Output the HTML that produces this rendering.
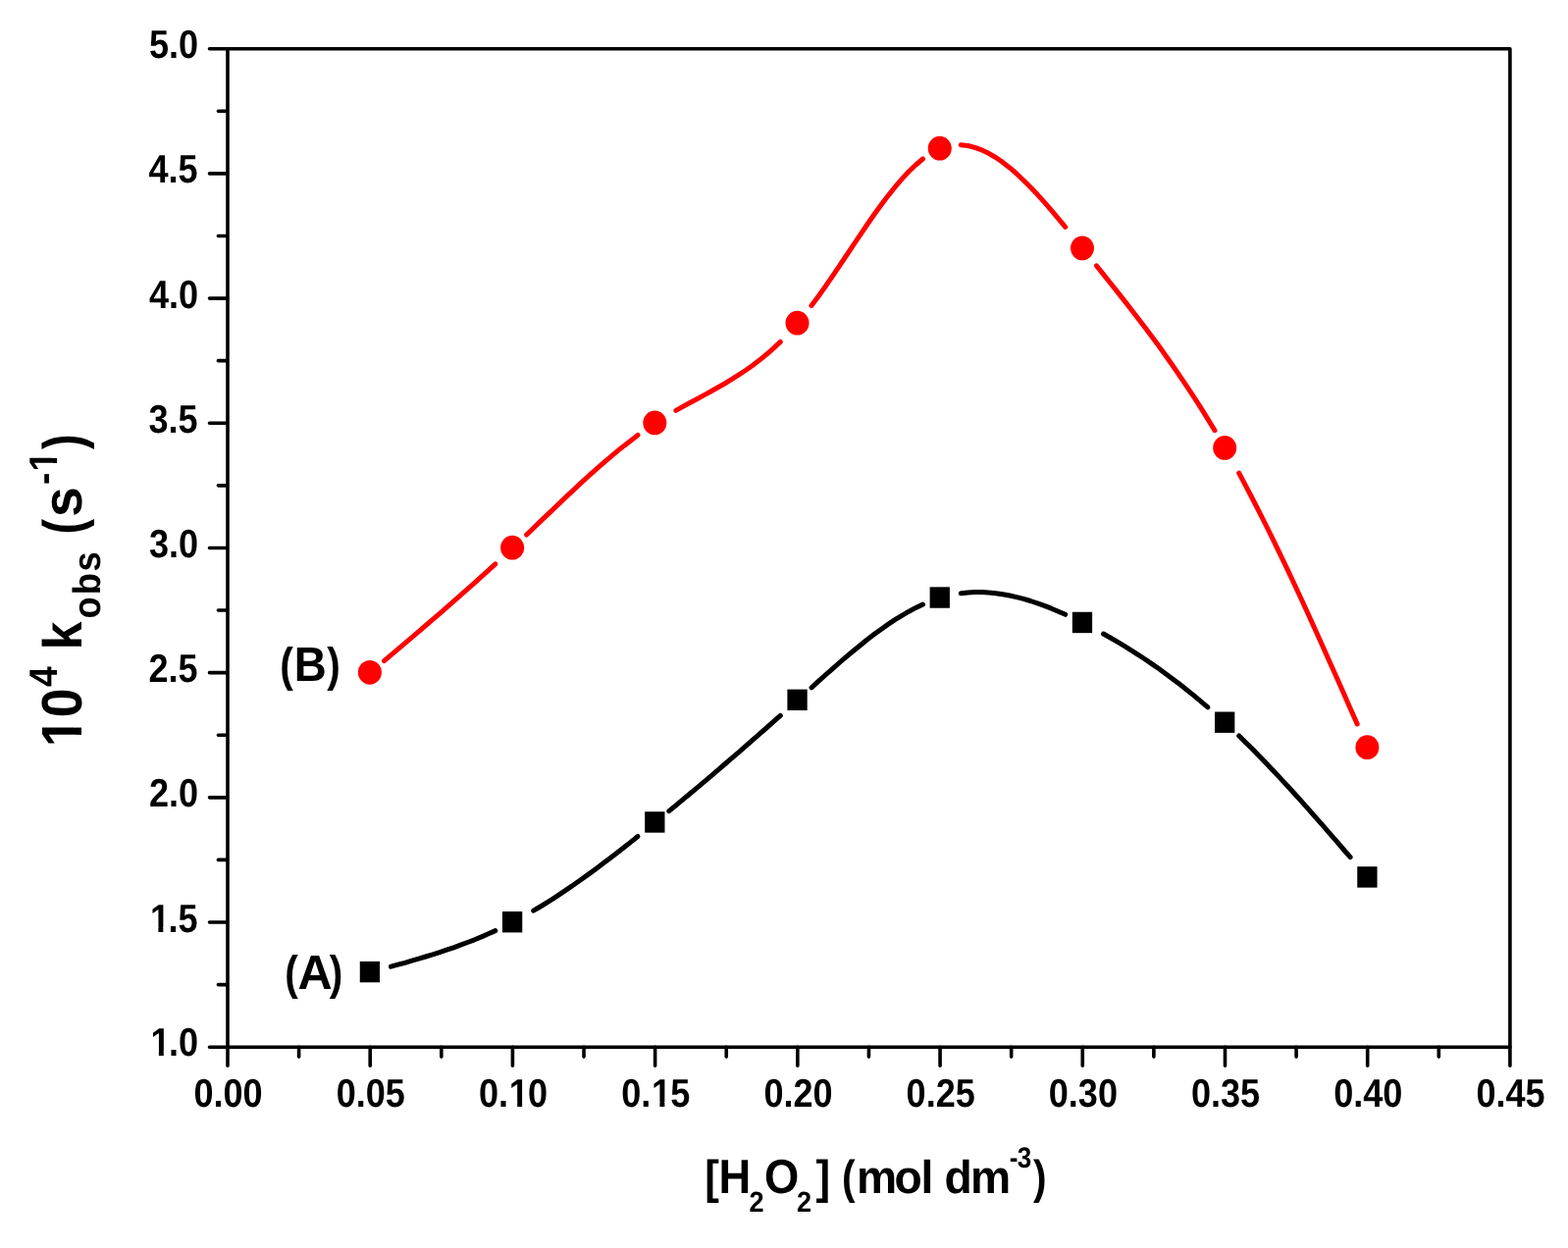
<!DOCTYPE html>
<html lang="en"><head><meta charset="utf-8"><title>Figure</title>
<style>html,body{margin:0;padding:0;background:#fff}body{width:1598px;height:1272px;overflow:hidden}svg{display:block}text{font-family:"Liberation Sans",sans-serif;font-weight:bold;fill:#000;font-kerning:none;white-space:pre;text-rendering:geometricPrecision;}</style></head><body>
<svg width="1598" height="1272" viewBox="0 0 1598 1272">
<rect width="1598" height="1272" fill="#fff"/>
<g fill="none" stroke="#000" stroke-width="3.6" stroke-linecap="round" stroke-linejoin="round">
<path d="M232 49.7H1538.9V1067.2H232Z"/>
<path d="M231 1067.2h-17.5M231 1003.61h-8.6M231 940.01h-17.5M231 876.42h-8.6M231 812.83h-17.5M231 749.23h-8.6M231 685.64h-17.5M231 622.04h-8.6M231 558.45h-17.5M231 494.86h-8.6M231 431.26h-17.5M231 367.67h-8.6M231 304.08h-17.5M231 240.48h-8.6M231 176.89h-17.5M231 113.29h-8.6M231 49.7h-17.5M232 1067.2v19.1M304.61 1067.2v9.9M377.21 1067.2v19.1M449.82 1067.2v9.9M522.42 1067.2v19.1M595.03 1067.2v9.9M667.63 1067.2v19.1M740.24 1067.2v9.9M812.84 1067.2v19.1M885.45 1067.2v9.9M958.06 1067.2v19.1M1030.66 1067.2v9.9M1103.27 1067.2v19.1M1175.87 1067.2v9.9M1248.48 1067.2v19.1M1321.08 1067.2v9.9M1393.69 1067.2v19.1M1466.29 1067.2v9.9M1538.9 1067.2v19.1"/>
</g>
<g fill="none" stroke="#000" stroke-width="5" stroke-linecap="round" stroke-linejoin="round">
<path d="M398.5 985.2L405.6 983.2L412.7 981.3L419.8 979.2L426.8 977.2L433.9 975L441 972.9L448.1 970.6L455.2 968.2L462.3 965.8L469.4 963.2L476.5 960.5L483.6 957.8L490.7 954.9L497.7 951.8L504.8 948.6"/>
<path d="M543.7 928.2L550.8 924L557.9 919.6L565 915.1L572.1 910.4L579.1 905.6L586.2 900.7L593.3 895.7L600.4 890.6L607.5 885.4L614.6 880.1L621.7 874.7L628.8 869.3L635.9 863.7L643 858.1L650 852.5"/>
<path d="M681.8 826.7L688.9 820.8L696 814.9L703.1 809L710.2 803.1L717.3 797.1L724.4 791.1L731.4 785.1L738.5 779L745.6 772.9L752.7 766.8L759.8 760.6L766.9 754.4L774 748.2L781.1 742L788.2 735.7L795.3 729.4"/>
<path d="M827 700.8L834.1 694.4L841.2 688L848.3 681.8L855.4 675.5L862.5 669.4L869.6 663.5L876.7 657.7L883.7 652L890.8 646.6L897.9 641.4L905 636.4L912.1 631.7L919.2 627.3L926.3 623.2L933.4 619.4L940.5 616"/>
<path d="M979.3 604.7L986.4 604L993.5 603.6L1000.6 603.6L1007.7 604L1014.8 604.7L1021.9 605.7L1029 607L1036 608.6L1043.1 610.4L1050.2 612.5L1057.3 614.9L1064.4 617.4L1071.5 620.2L1078.6 623.2L1085.7 626.3"/>
<path d="M1124.5 646L1131.6 650L1138.7 654.2L1145.8 658.4L1152.9 662.8L1160 667.4L1167.1 672L1174.2 676.9L1181.3 681.8L1188.3 686.9L1195.4 692.2L1202.5 697.6L1209.6 703.2L1216.7 708.9L1223.8 714.8L1230.9 720.8"/>
<path d="M1262.7 749.9L1269.7 756.9L1276.8 763.9L1283.9 771.2L1291 778.5L1298.1 786L1305.2 793.6L1312.3 801.2L1319.4 809L1326.5 816.9L1333.6 824.8L1340.6 832.9L1347.7 840.9L1354.8 849.1L1361.9 857.2L1369 865.5L1376.1 873.7"/>
</g>
<g fill="none" stroke="#f00" stroke-width="5" stroke-linecap="round" stroke-linejoin="round">
<path d="M391.4 673.7L398.5 667.7L405.6 661.7L412.7 655.7L419.8 649.6L426.8 643.6L433.9 637.5L441 631.4L448.1 625.3L455.2 619.1L462.3 612.9L469.4 606.7L476.5 600.4L483.6 594.1L490.7 587.7L497.7 581.3L504.8 574.8"/>
<path d="M536.6 545L543.7 538.2L550.8 531.4L557.9 524.6L565 517.9L572.1 511.1L579.1 504.4L586.2 497.8L593.3 491.2L600.4 484.7L607.5 478.4L614.6 472.2L621.7 466.1L628.8 460.2L635.9 454.4L643 448.9L650 443.5"/>
<path d="M688.9 418.4L696 414.4L703.1 410.5L710.2 406.7L717.3 402.9L724.4 399L731.4 395L738.5 391L745.6 386.7L752.7 382.2L759.8 377.5L766.9 372.5L774 367.1L781.1 361.3L788.2 355.1L795.3 348.4"/>
<path d="M827 311.6L834.1 302L841.2 292L848.3 281.6L855.4 271.1L862.5 260.5L869.6 249.9L876.7 239.4L883.7 229L890.8 218.8L897.9 209L905 199.6L912.1 190.7L919.2 182.4L926.3 174.8L933.4 168L940.5 162"/>
<path d="M979.3 147.7L986.4 148.5L993.5 150.3L1000.6 152.9L1007.7 156.3L1014.8 160.5L1021.9 165.4L1029 170.9L1036 177L1043.1 183.7L1050.2 190.8L1057.3 198.3L1064.4 206.2L1071.5 214.4L1078.6 222.8L1085.7 231.4"/>
<path d="M1117.4 270.8L1124.5 279.6L1131.6 288.5L1138.7 297.4L1145.8 306.4L1152.9 315.5L1160 324.7L1167.1 334L1174.2 343.5L1181.3 353.1L1188.3 363L1195.4 373L1202.5 383.3L1209.6 393.8L1216.7 404.6L1223.8 415.7L1230.9 427.1L1238 438.7"/>
<path d="M1262.7 482.2L1269.7 495.4L1276.8 509L1283.9 522.9L1291 537L1298.1 551.4L1305.2 566.1L1312.3 580.9L1319.4 596L1326.5 611.3L1333.6 626.7L1340.6 642.3L1347.7 658L1354.8 673.9L1361.9 689.8L1369 705.8L1376.1 721.9L1383.2 738"/>
</g>
<g fill="#000">
<rect x="366.76" y="979.89" width="20.3" height="21.4"/>
<rect x="511.97" y="929.01" width="20.3" height="21.4"/>
<rect x="657.18" y="827.26" width="20.3" height="21.4"/>
<rect x="802.39" y="702.62" width="20.3" height="21.4"/>
<rect x="947.61" y="598.33" width="20.3" height="21.4"/>
<rect x="1092.82" y="623.76" width="20.3" height="21.4"/>
<rect x="1238.03" y="725.51" width="20.3" height="21.4"/>
<rect x="1383.24" y="883.23" width="20.3" height="21.4"/>
</g><g fill="#f00">
<ellipse cx="376.91" cy="685.34" rx="12" ry="12.4"/>
<ellipse cx="522.12" cy="558.15" rx="12" ry="12.4"/>
<ellipse cx="667.33" cy="430.96" rx="12" ry="12.4"/>
<ellipse cx="812.54" cy="329.21" rx="12" ry="12.4"/>
<ellipse cx="957.76" cy="151.15" rx="12" ry="12.4"/>
<ellipse cx="1102.97" cy="252.9" rx="12" ry="12.4"/>
<ellipse cx="1248.18" cy="456.4" rx="12" ry="12.4"/>
<ellipse cx="1393.39" cy="761.65" rx="12" ry="12.4"/>
</g>
<g>
<text transform="translate(0 1076) scale(0.08867 0.1)"><tspan x="1730.4 1939.2 2052" y="0" font-size="406">1.0</tspan></text>
<text transform="translate(0 950) scale(0.08867 0.1)"><tspan x="1725 1933.9 2046.7" y="0" font-size="406">1.5</tspan></text>
<text transform="translate(0 822) scale(0.08867 0.1)"><tspan x="1713.5 1939.2 2052" y="0" font-size="406">2.0</tspan></text>
<text transform="translate(0 695) scale(0.08867 0.1)"><tspan x="1708.1 1933.9 2046.7" y="0" font-size="406">2.5</tspan></text>
<text transform="translate(0 568) scale(0.08867 0.1)"><tspan x="1713.5 1939.2 2052" y="0" font-size="406">3.0</tspan></text>
<text transform="translate(0 441) scale(0.08867 0.1)"><tspan x="1708.1 1933.9 2046.7" y="0" font-size="406">3.5</tspan></text>
<text transform="translate(0 314) scale(0.08867 0.1)"><tspan x="1713.5 1939.2 2052" y="0" font-size="406">4.0</tspan></text>
<text transform="translate(0 186) scale(0.08867 0.1)"><tspan x="1708.1 1933.9 2046.7" y="0" font-size="406">4.5</tspan></text>
<text transform="translate(0 59) scale(0.08867 0.1)"><tspan x="1713.5 1939.2 2052" y="0" font-size="406">5.0</tspan></text>
</g><g>
<text transform="translate(0 1128) scale(0.08867 0.1)"><tspan x="2228.1 2453.9 2566.7 2792.5" y="0" font-size="406">0.00</tspan></text>
<text transform="translate(0 1128) scale(0.08867 0.1)"><tspan x="3865.8 4091.6 4204.4 4430.2" y="0" font-size="406">0.05</tspan></text>
<text transform="translate(0 1128) scale(0.08867 0.1)"><tspan x="5503.4 5729.2 5851.1 6067.8" y="0" font-size="406">0.10</tspan></text>
<text transform="translate(0 1128) scale(0.08867 0.1)"><tspan x="7141.1 7366.9 7488.7 7705.5" y="0" font-size="406">0.15</tspan></text>
<text transform="translate(0 1128) scale(0.08867 0.1)"><tspan x="8778.7 9004.5 9117.3 9343.1" y="0" font-size="406">0.20</tspan></text>
<text transform="translate(0 1128) scale(0.08867 0.1)"><tspan x="10416.4 10642.2 10755 10980.8" y="0" font-size="406">0.25</tspan></text>
<text transform="translate(0 1128) scale(0.08867 0.1)"><tspan x="12054.1 12279.9 12392.7 12618.5" y="0" font-size="406">0.30</tspan></text>
<text transform="translate(0 1128) scale(0.08867 0.1)"><tspan x="13691.7 13917.5 14030.3 14256.1" y="0" font-size="406">0.35</tspan></text>
<text transform="translate(0 1128) scale(0.08867 0.1)"><tspan x="15329.4 15555.2 15668 15893.8" y="0" font-size="406">0.40</tspan></text>
<text transform="translate(0 1128) scale(0.08867 0.1)"><tspan x="16967 17192.8 17305.6 17531.4" y="0" font-size="406">0.45</tspan></text>
</g>
<g>
<text transform="translate(0 1007.6) scale(0.084 0.1)"><tspan x="3456.6" y="4" font-size="485">(</tspan></text>
<text transform="translate(0 1007.6) scale(0.0975 0.1)"><tspan x="3114" y="0" font-size="498">A</tspan></text>
<text transform="translate(0 1007.6) scale(0.084 0.1)"><tspan x="3996.1" y="4" font-size="485">)</tspan></text>
</g>
<g>
<text transform="translate(0 693.6) scale(0.084 0.1)"><tspan x="3396.3" y="4" font-size="485">(</tspan></text>
<text transform="translate(0 693.6) scale(0.0915 0.1)"><tspan x="3275.8" y="0" font-size="498">B</tspan></text>
<text transform="translate(0 693.6) scale(0.084 0.1)"><tspan x="3968.3" y="4" font-size="485">)</tspan></text>
</g>
<g>
<text transform="translate(0 1215.9) scale(0.092 0.1)"><tspan x="7805.9" y="2" font-size="479">[</tspan><tspan x="7960.9" y="0" font-size="494">H</tspan><tspan x="8297.8" y="187" font-size="296">2</tspan><tspan x="8468.4" y="0" font-size="494">O</tspan><tspan x="8825.5" y="187" font-size="296">2</tspan><tspan x="9038.4 9197.9" y="2" font-size="479">] </tspan></text>
<text transform="translate(0 1215.9) scale(0.085 0.1)"><tspan x="10094.4" y="2" font-size="479">(</tspan></text>
<text transform="translate(0 1215.9) scale(0.0975 0.1)"><tspan x="8953 9347.5 9626.7 9758.4 9871.4 10144.2" y="0" font-size="474">mol dm</tspan></text>
<text transform="translate(0 1215.9) scale(0.087 0.1)"><tspan x="11824.9 11916.9" y="-261" font-size="300">-3</tspan></text>
<text transform="translate(0 1215.9) scale(0.085 0.1)"><tspan x="12388.4" y="2" font-size="479">)</tspan></text>
</g>
<g>
<text transform="translate(83.4 800) rotate(-90) scale(0.0915 0.1)"><tspan x="422.3 751.7" y="0" font-size="584">10</tspan><tspan x="1093.3" y="-254" font-size="404">4</tspan><tspan x="1349.4 1505" y="0" font-size="560"> k</tspan><tspan x="1851.2 2117.8 2375.7 2596" y="186" font-size="396">obs </tspan></text>
<text transform="translate(83.4 800) rotate(-90) scale(0.081 0.1)"><tspan x="3155.5" y="6" font-size="576">(</tspan></text>
<text transform="translate(83.4 800) rotate(-90) scale(0.0975 0.1)"><tspan x="2799.4" y="0" font-size="565">s</tspan></text>
<text transform="translate(83.4 800) rotate(-90) scale(0.0915 0.1)"><tspan x="3345 3490.7" y="-254" font-size="404">-1</tspan></text>
<text transform="translate(83.4 800) rotate(-90) scale(0.081 0.1)"><tspan x="4223.1" y="6" font-size="576">)</tspan></text>
</g>
<g fill="#fff"><g transform="translate(0 1076)"><rect x="154.9" y="-4.94" width="6.93" height="5.74"/><rect x="166.77" y="-4.94" width="6.48" height="5.74"/></g><g transform="translate(0 950)"><rect x="154.43" y="-4.94" width="6.93" height="5.74"/><rect x="166.3" y="-4.94" width="6.48" height="5.74"/></g><g transform="translate(0 1128)"><rect x="520.28" y="-4.94" width="6.93" height="5.74"/><rect x="532.15" y="-4.94" width="6.48" height="5.74"/></g><g transform="translate(0 1128)"><rect x="665.49" y="-4.94" width="6.93" height="5.74"/><rect x="677.37" y="-4.94" width="6.48" height="5.74"/></g><g transform="translate(83 800) rotate(-90)"><rect x="41.2" y="-6.76" width="9.91" height="7.56"/><rect x="58.44" y="-6.76" width="9.23" height="7.56"/></g><g transform="translate(83.4 800) rotate(-90)"><rect x="320.93" y="-30.32" width="7.1" height="5.72"/><rect x="333.1" y="-30.32" width="6.63" height="5.72"/></g></g>
</svg></body></html>
